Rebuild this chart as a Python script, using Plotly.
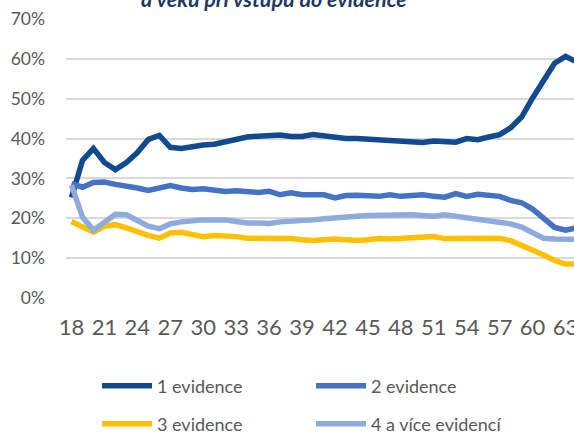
import plotly.graph_objects as go

ages = list(range(18, 65))
s1 = [25.2, 34.5, 37.5, 34.0, 32.2, 34.0, 36.5, 39.8, 40.8, 37.8, 37.5, 38.0, 38.4, 38.6, 39.2, 39.8,
      40.4, 40.6, 40.8, 40.9, 40.5, 40.5, 41.0, 40.6, 40.2, 40.0, 40.0, 39.8, 39.6, 39.4, 39.1, 39.0,
      39.0, 39.4, 39.4, 39.1, 40.0, 39.7, 40.4, 41.0, 42.7, 45.4, 50.2, 54.3, 58.9, 60.6, 59.3]
s2 = [28.7, 27.8, 29.0, 29.1, 28.5, 28.2, 27.6, 27.0, 27.5, 28.2, 27.6, 27.2, 27.4, 27.0, 26.7, 26.9,
      26.6, 26.5, 26.8, 25.9, 26.4, 25.9, 25.9, 25.9, 25.1, 25.7, 25.8, 25.7, 25.5, 25.9, 25.5, 25.7,
      25.9, 25.5, 25.3, 26.2, 25.5, 26.0, 25.7, 25.5, 24.5, 23.9, 22.3, 20.2, 17.7, 17.0, 17.6]
s3 = [19.2, 18.0, 16.5, 18.0, 18.4, 17.6, 16.5, 15.7, 15.0, 16.3, 16.5, 16.0, 15.4, 15.7, 15.6, 15.4,
      15.0, 15.0, 14.8, 14.9, 14.9, 14.6, 14.4, 14.6, 14.8, 14.6, 14.4, 14.6, 14.9, 14.8, 15.0, 15.2,
      15.4, 15.4, 14.9, 14.9, 15.0, 15.0, 14.8, 15.0, 14.4, 13.3, 12.1, 10.8, 9.4, 8.5, 8.5]
s4 = [28.3, 20.3, 17.0, 19.2, 21.0, 20.9, 19.6, 18.0, 17.4, 18.6, 19.1, 19.4, 19.6, 19.6, 19.6, 19.2,
      18.8, 18.8, 18.7, 19.1, 19.2, 19.3, 19.6, 19.9, 20.2, 20.2, 20.5, 20.7, 20.8, 20.9, 21.1, 20.9,
      20.7, 20.5, 20.9, 20.5, 20.1, 19.9, 19.5, 19.0, 18.6, 17.8, 16.3, 15.0, 14.8, 14.6, 14.7]

names = ["1 evidence", "2 evidence", "3 evidence", "4 a více evidencí"]
colors = ["#124A8F", "#4472C4", "#FFC000", "#8FAADC"]
legend_ids = ["legend", "legend2", "legend3", "legend4"]
legend_pos = [(103, 386), (317, 386), (103, 424), (317, 424)]
tick_ages = list(range(18, 64, 3))
y_ticks = [0, 10, 20, 30, 40, 50, 60, 70]
y_labels = [f"{v}%" for v in y_ticks]
title_text = "a věku při vstupu do evidence"

FONT = "Lato"
W, H = 574, 434
fig = go.Figure()
for name, vals, col, lg in zip(names, [s1, s2, s3, s4], colors, legend_ids):
    fig.add_trace(go.Scatter(x=ages, y=vals, mode="lines", name=name, legend=lg,
                             line=dict(color=col, width=5.5)))

legend_layout = {}
for lg, (px, py) in zip(legend_ids, legend_pos):
    legend_layout[lg] = dict(orientation="h", xref="container", yref="container",
                             x=(px - 6) / W, y=1 - py / H, xanchor="left", yanchor="middle",
                             itemwidth=50, font=dict(size=18, color="#595959"),
                             bgcolor="rgba(0,0,0,0)")

fig.update_layout(
    width=W, height=H,
    margin=dict(l=66, r=0, t=19, b=136, autoexpand=False),
    paper_bgcolor="white", plot_bgcolor="white",
    font=dict(family=FONT, color="#595959"),
    showlegend=True,
    xaxis=dict(range=[17.5, 63.77], tickvals=tick_ages, ticktext=[str(a) for a in tick_ages],
               showgrid=False, zeroline=False, showline=False, ticks="",
               tickfont=dict(size=22, color="#595959"), ticklabelstandoff=14,
               ticklabeloverflow="allow"),
    yaxis=dict(range=[0, 70], tickvals=y_ticks, ticktext=y_labels, showgrid=True,
               gridcolor="#D9D9D9", gridwidth=1.5, zeroline=False, showline=False, ticks="",
               tickfont=dict(size=17.5, color="#595959"), ticklabelstandoff=20),
    annotations=[dict(text=title_text, xref="paper", yref="paper", x=(273.5 - 66) / 508,
                      y=1.0, yshift=5, xanchor="center", yanchor="bottom", showarrow=False,
                      font=dict(family=FONT, size=21.5, color="#1F3864", weight="bold", style="italic"))],
    **legend_layout,
)
fig.write_html("out.html", config={"displayModeBar": False},
               post_script="document.body.style.margin='0';document.body.style.overflow='hidden';")
